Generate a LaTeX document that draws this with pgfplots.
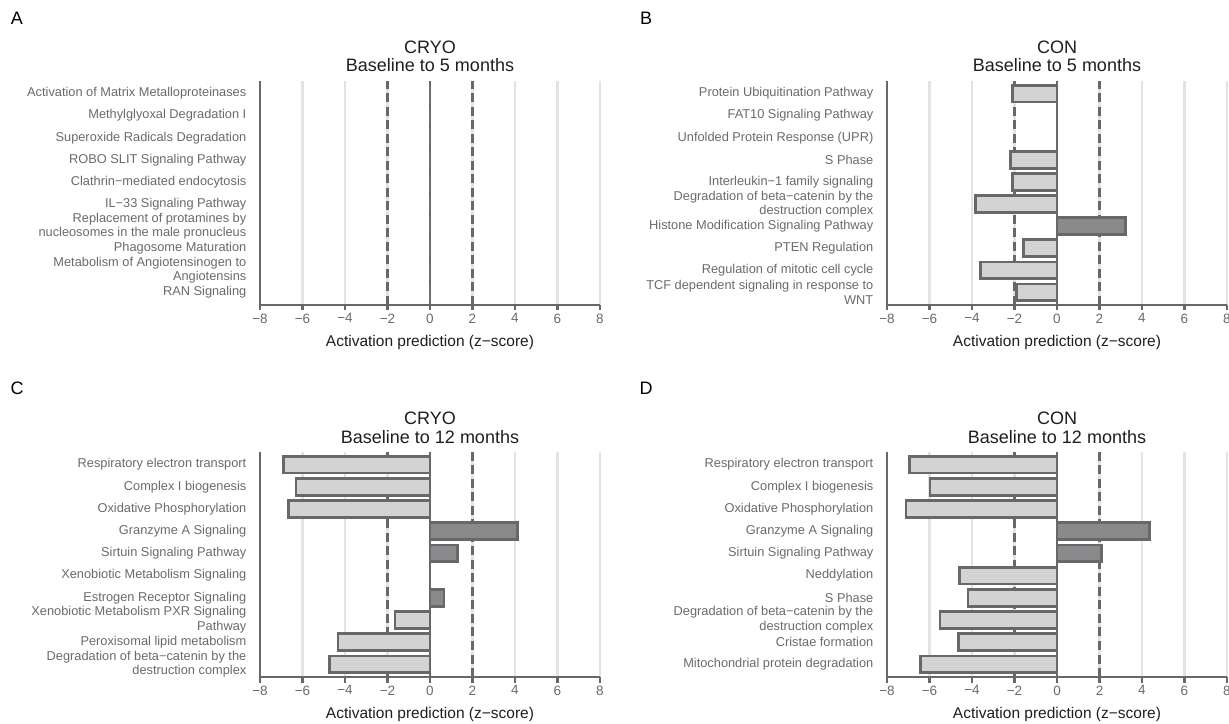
\documentclass[border=0pt]{standalone}
\usepackage{fontspec}
\setmainfont{Liberation Sans}
\usepackage{pgfplots}
\usepackage{pgfplotstable}
\pgfplotsset{compat=1.18}
\definecolor{axgray}{HTML}{686868}
\definecolor{lightbar}{HTML}{D3D3D3}
\definecolor{darkbar}{HTML}{8A8A8C}
\definecolor{gridgray}{HTML}{E3E3E3}
\definecolor{labgray}{HTML}{6A6A6A}
\definecolor{txt}{HTML}{1E1E1E}

% row index i: 10 = top row, 1 = bottom row
\pgfplotstableread{
i v
10 0
9 0
8 0
7 0
6 0
5 0
4 0
3 0
2 0
1 0
}\dataAneg
\pgfplotstableread{
i v
10 -2.08
9 0
8 0
7 -2.19
6 -2.08
5 -3.84
3 -1.57
2 -3.60
1 -1.90
}\dataBneg
\pgfplotstableread{
i v
4 3.21
}\dataBpos
\pgfplotstableread{
i v
10 -6.91
9 -6.30
8 -6.67
5 0
3 -1.65
2 -4.33
1 -4.72
}\dataCneg
\pgfplotstableread{
i v
7 4.12
6 1.29
4 0.66
}\dataCpos
\pgfplotstableread{
i v
10 -6.93
9 -5.97
8 -7.10
5 -4.60
4 -4.19
3 -5.51
2 -4.64
1 -6.44
}\dataDneg
\pgfplotstableread{
i v
7 4.36
6 2.08
}\dataDpos

\pgfplotsset{
  panel/.style={
    scale only axis, width=340pt, height=224pt, anchor=south west,
    xmin=-8, xmax=8, ymin=0.43, ymax=10.57,
    axis x line*=bottom, axis y line*=left,
    axis line style={draw=axgray, line width=2.8pt},
    xtick={-8,-6,...,8}, xticklabels={−8,−6,−4,−2,0,2,4,6,8},
    ytick={1,...,10},
    tick align=outside, major tick length=5.5pt,
    xtick style={draw=axgray, line width=2.8pt},
    ytick style={draw=none},
    xmajorgrids, major grid style={draw=gridgray, line width=2.5pt},
    ticklabel style={font=\fontsize{13.5}{15}\selectfont, text=labgray},
    yticklabel style={align=right, font=\fontsize{12.8}{14.6}\selectfont, inner sep=0pt, xshift=-8pt},
    xticklabel style={inner sep=0pt, yshift=-3pt},
    xlabel={Activation prediction (z−score)},
    xlabel style={font=\fontsize{15.5}{18}\selectfont, text=txt, at={(axis description cs:0.5,0)}, anchor=center, yshift=-37pt},
  },
  refl/.style={draw=axgray, line width=2.4pt, forget plot},
  negbar/.style={xbar, bar shift=0pt, bar width=0.76, fill=lightbar, draw=axgray, line width=2.7pt},
  posbar/.style={xbar, bar shift=0pt, bar width=0.76, fill=darkbar, draw=axgray, line width=2.7pt},
}
\newcommand{\reflines}{%
  \addplot[refl, dash pattern=on 9pt off 4.5pt] coordinates {(-2,0.43) (-2,10.57)};
  \addplot[refl, dash pattern=on 9pt off 4.5pt] coordinates {(2,0.43) (2,10.57)};
  \addplot[refl] coordinates {(0,0.43) (0,10.57)};
}

\begin{document}
\begin{tikzpicture}
\useasboundingbox (0pt,0pt) rectangle (1229pt,723pt);

% Panel A
\begin{axis}[panel, at={(260pt,418pt)},
  yticklabels={RAN Signaling, {Metabolism of Angiotensinogen to\\Angiotensins}, Phagosome Maturation, {Replacement of protamines by\\nucleosomes in the male pronucleus}, IL−33 Signaling Pathway, Clathrin−mediated endocytosis, ROBO SLIT Signaling Pathway, Superoxide Radicals Degradation, Methylglyoxal Degradation I, Activation of Matrix Metalloproteinases}]
\reflines
\addplot[negbar, draw=none] table[x=v, y=i] {\dataAneg};
\end{axis}

% Panel B
\begin{axis}[panel, at={(887pt,418pt)},
  yticklabels={{TCF dependent signaling in response to\\WNT}, Regulation of mitotic cell cycle, PTEN Regulation, Histone Modification Signaling Pathway, {Degradation of beta−catenin by the\\destruction complex}, Interleukin−1 family signaling, S Phase, Unfolded Protein Response (UPR), FAT10 Signaling Pathway, Protein Ubiquitination Pathway}]
\reflines
\addplot[negbar] table[x=v, y=i] {\dataBneg};
\addplot[posbar] table[x=v, y=i] {\dataBpos};
\end{axis}

% Panel C
\begin{axis}[panel, at={(260pt,46pt)}, height=225pt,
  yticklabels={{Degradation of beta−catenin by the\\destruction complex}, Peroxisomal lipid metabolism, {Xenobiotic Metabolism PXR Signaling\\Pathway}, Estrogen Receptor Signaling, Xenobiotic Metabolism Signaling, Sirtuin Signaling Pathway, Granzyme A Signaling, Oxidative Phosphorylation, Complex I biogenesis, Respiratory electron transport}]
\reflines
\addplot[negbar] table[x=v, y=i] {\dataCneg};
\addplot[posbar] table[x=v, y=i] {\dataCpos};
\end{axis}

% Panel D
\begin{axis}[panel, at={(887pt,46pt)}, height=225pt,
  yticklabels={Mitochondrial protein degradation, Cristae formation, {Degradation of beta−catenin by the\\destruction complex}, S Phase, Neddylation, Sirtuin Signaling Pathway, Granzyme A Signaling, Oxidative Phosphorylation, Complex I biogenesis, Respiratory electron transport}]
\reflines
\addplot[negbar] table[x=v, y=i] {\dataDneg};
\addplot[posbar] table[x=v, y=i] {\dataDpos};
\end{axis}

% Titles and panel letters
\begin{scope}[every node/.style={font=\fontsize{18}{20}\selectfont, text=txt, inner sep=0pt}]
\node at (430pt,676pt) {CRYO};
\node at (430pt,657.5pt) {Baseline to 5 months};
\node at (1057pt,676pt) {CON};
\node at (1057pt,657.5pt) {Baseline to 5 months};
\node at (430pt,305pt) {CRYO};
\node at (430pt,286pt) {Baseline to 12 months};
\node at (1057pt,305pt) {CON};
\node at (1057pt,286pt) {Baseline to 12 months};
\end{scope}
\begin{scope}[every node/.style={font=\fontsize{18}{20}\selectfont, text=black, inner sep=0pt}]
\node at (17pt,705pt) {A};
\node at (646pt,705pt) {B};
\node at (17pt,335pt) {C};
\node at (646pt,335pt) {D};
\end{scope}
\end{tikzpicture}
\end{document}
